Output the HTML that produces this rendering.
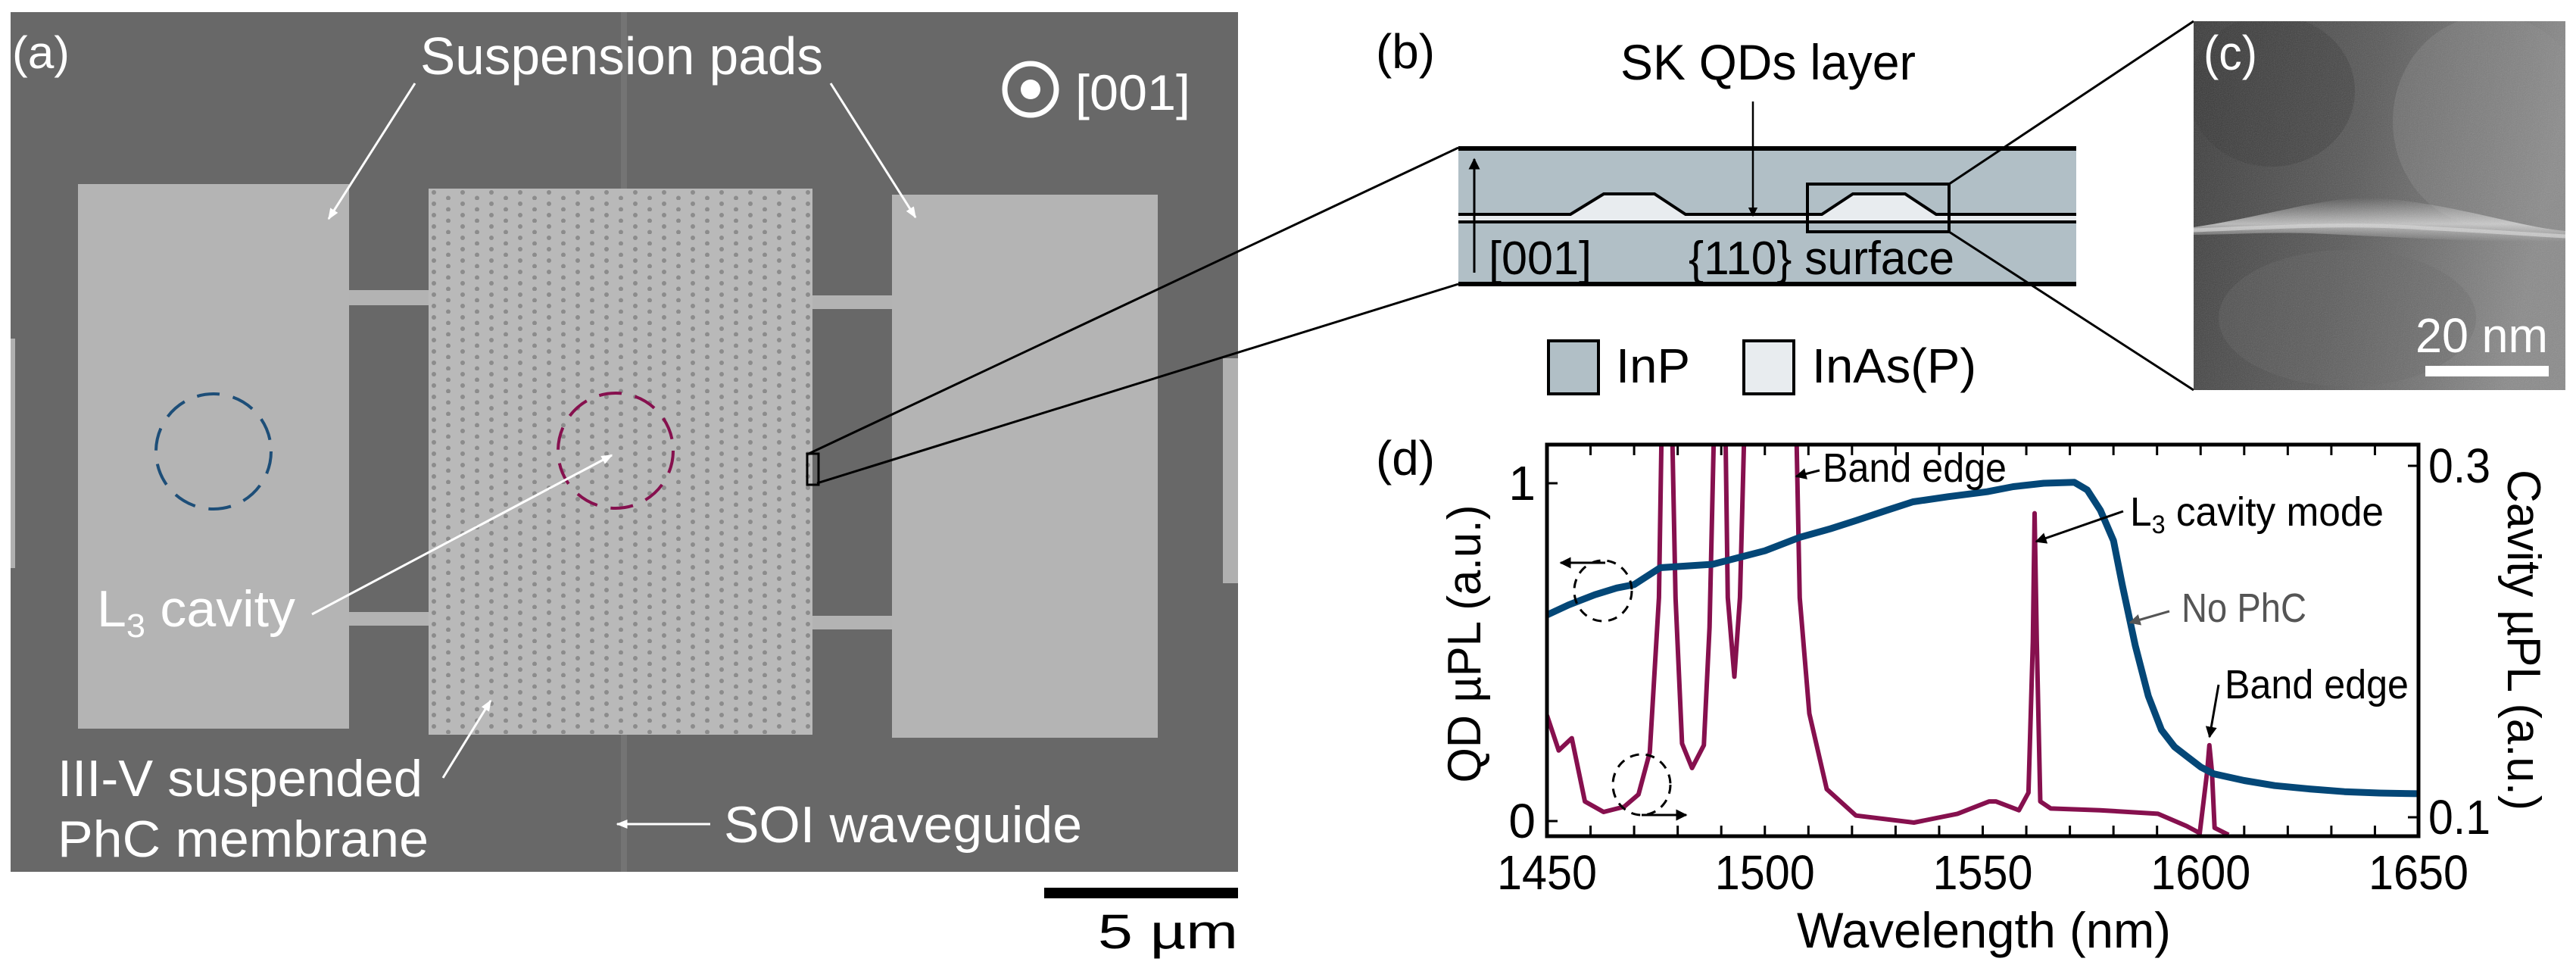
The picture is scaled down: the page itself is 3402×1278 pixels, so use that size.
<!DOCTYPE html>
<html><head><meta charset="utf-8"><style>
html,body{margin:0;padding:0;background:#fff;}
svg{display:block;}
text{font-family:"Liberation Sans",sans-serif;}
</style></head><body>
<svg id="fig" width="3402" height="1278" viewBox="0 0 3402 1278" xmlns="http://www.w3.org/2000/svg">
<defs>
<pattern id="holes" x="564" y="249" width="38" height="15" patternUnits="userSpaceOnUse">
<rect width="38" height="15" fill="#b9b9b9"/>
<circle cx="9" cy="5" r="3" fill="#8c8c8c"/>
<circle cx="28" cy="12.5" r="3" fill="#8c8c8c"/>
</pattern>
<linearGradient id="temBg" x1="0" y1="0" x2="1" y2="0.2">
<stop offset="0" stop-color="#383838"/><stop offset="0.5" stop-color="#585858"/><stop offset="1" stop-color="#8a8a8a"/>
</linearGradient>
<linearGradient id="band" x1="0" y1="0" x2="0" y2="1">
<stop offset="0" stop-color="#ddd" stop-opacity="0"/><stop offset="0.6" stop-color="#e2e2e2" stop-opacity="0.75"/><stop offset="1" stop-color="#ddd" stop-opacity="0"/>
</linearGradient>
<filter id="grain" x="0" y="0" width="100%" height="100%">
<feTurbulence type="fractalNoise" baseFrequency="0.9" numOctaves="2" seed="3" result="n"/>
<feColorMatrix type="saturate" values="0"/>
</filter>
<clipPath id="plotClip"><rect x="2043" y="587" width="1151" height="517"/></clipPath>
<clipPath id="temClip"><rect x="2897" y="28" width="491" height="487"/></clipPath>
<marker id="ah" viewBox="0 0 10 10" refX="9" refY="5" markerWidth="5" markerHeight="5" orient="auto-start-reverse"><path d="M0,0L10,5L0,10z" fill="#000"/></marker>
<marker id="ahw" viewBox="0 0 10 10" refX="9" refY="5" markerWidth="5" markerHeight="5" orient="auto"><path d="M0,1L10,5L0,9z" fill="#fff"/></marker>
<marker id="ahg" viewBox="0 0 10 10" refX="9" refY="5" markerWidth="5" markerHeight="5" orient="auto"><path d="M0,0L10,5L0,10z" fill="#555"/></marker>
</defs>

<g>
<rect x="14" y="16" width="1621" height="1135" fill="#686868"/>
<rect x="820" y="16" width="8" height="1135" fill="#747474"/>
<rect x="14" y="447" width="6" height="303" fill="#b0b0b0"/>
<rect x="1615" y="473" width="20" height="297" fill="#b0b0b0"/>
<rect x="455" y="383" width="115" height="20" fill="#b3b3b3"/>
<rect x="455" y="808" width="115" height="18" fill="#b3b3b3"/>
<rect x="1068" y="390" width="115" height="18" fill="#b3b3b3"/>
<rect x="1068" y="813" width="115" height="18" fill="#b3b3b3"/>
<rect x="103" y="243" width="358" height="719" fill="#b4b4b4"/>
<rect x="1178" y="257" width="351" height="717" fill="#b4b4b4"/>
<rect x="566" y="249" width="507" height="721" fill="url(#holes)"/>
<circle cx="282" cy="596" r="76" fill="none" stroke="#1d4e78" stroke-width="4" stroke-dasharray="30 18"/>
<circle cx="813" cy="595" r="76" fill="none" stroke="#86104e" stroke-width="4" stroke-dasharray="30 18"/>
<text x="16" y="90" font-size="60" fill="#fff" textLength="76" lengthAdjust="spacingAndGlyphs">(a)</text>
<text x="555" y="98" font-size="70" fill="#fff" textLength="532" lengthAdjust="spacingAndGlyphs">Suspension pads</text>
<line x1="548" y1="110" x2="434" y2="289" stroke="#fff" stroke-width="3" marker-end="url(#ahw)"/>
<line x1="1097" y1="110" x2="1209" y2="287" stroke="#fff" stroke-width="3" marker-end="url(#ahw)"/>
<circle cx="1361" cy="118" r="34" fill="none" stroke="#fff" stroke-width="7"/>
<circle cx="1361" cy="118" r="13" fill="#fff"/>
<text x="1420" y="145" font-size="66" fill="#fff" textLength="152" lengthAdjust="spacingAndGlyphs">[001]</text>
<line x1="412" y1="811" x2="808" y2="601" stroke="#fff" stroke-width="3" marker-end="url(#ahw)"/>
<text x="128" y="827" font-size="68" fill="#fff" textLength="262" lengthAdjust="spacingAndGlyphs">L<tspan font-size="44" dy="14">3</tspan><tspan dy="-14"> cavity</tspan></text>
<text x="76" y="1051" font-size="68" fill="#fff" textLength="482" lengthAdjust="spacingAndGlyphs">III-V suspended</text>
<text x="76" y="1131" font-size="68" fill="#fff" textLength="490" lengthAdjust="spacingAndGlyphs">PhC membrane</text>
<line x1="585" y1="1027" x2="648" y2="925" stroke="#fff" stroke-width="3" marker-end="url(#ahw)"/>
<text x="956" y="1112" font-size="68" fill="#fff" textLength="473" lengthAdjust="spacingAndGlyphs">SOI waveguide</text>
<line x1="938" y1="1088" x2="815" y2="1088" stroke="#fff" stroke-width="3" marker-end="url(#ahw)"/>
<rect x="1066" y="599" width="15" height="41" fill="none" stroke="#000" stroke-width="3"/>
</g>
<rect x="1379" y="1172" width="256" height="14" fill="#000"/>
<text x="1450" y="1252" font-size="64" fill="#000" textLength="185" lengthAdjust="spacingAndGlyphs">5 µm</text>
<line x1="1068" y1="599" x2="1926" y2="195" stroke="#000" stroke-width="3"/>
<line x1="1079" y1="638" x2="1926" y2="375" stroke="#000" stroke-width="3"/>

<g>
<text x="1817" y="90" font-size="64" fill="#000" textLength="78" lengthAdjust="spacingAndGlyphs">(b)</text>
<rect x="1926" y="195" width="816" height="180" fill="#b1bfc6"/>
<path d="M1926,283 L2074,283 L2118,256 L2185,256 L2226,283 L2406,283 L2447,256 L2516,256 L2557,283 L2742,283 L2742,293 L1926,293 Z" fill="#e8ecef"/>
<path d="M1926,283 L2074,283 L2118,256 L2185,256 L2226,283 L2406,283 L2447,256 L2516,256 L2557,283 L2742,283" fill="none" stroke="#000" stroke-width="4"/>
<line x1="1926" y1="293" x2="2742" y2="293" stroke="#000" stroke-width="4"/>
<line x1="1926" y1="196" x2="2742" y2="196" stroke="#000" stroke-width="6"/>
<line x1="1926" y1="375" x2="2742" y2="375" stroke="#000" stroke-width="6"/>
<line x1="1947" y1="360" x2="1947" y2="210" stroke="#000" stroke-width="3" marker-end="url(#ah)"/>
<text x="1966" y="362" font-size="62" fill="#000" textLength="136" lengthAdjust="spacingAndGlyphs">[001]</text>
<text x="2230" y="362" font-size="62" fill="#000" textLength="351" lengthAdjust="spacingAndGlyphs">{110} surface</text>
<text x="2140" y="105" font-size="66" fill="#000" textLength="390" lengthAdjust="spacingAndGlyphs">SK QDs layer</text>
<line x1="2315" y1="134" x2="2315" y2="285" stroke="#000" stroke-width="2.5" marker-end="url(#ah)"/>
<rect x="2387" y="243" width="187" height="63" fill="none" stroke="#000" stroke-width="4"/>
<line x1="2574" y1="243" x2="2897" y2="28" stroke="#000" stroke-width="3"/>
<line x1="2574" y1="306" x2="2897" y2="515" stroke="#000" stroke-width="3"/>
<rect x="2045" y="450" width="66" height="70" fill="#b1bfc6" stroke="#000" stroke-width="4"/>
<text x="2134" y="505" font-size="64" fill="#000" textLength="98" lengthAdjust="spacingAndGlyphs">InP</text>
<rect x="2303" y="450" width="66" height="70" fill="#e8ecef" stroke="#000" stroke-width="4"/>
<text x="2393" y="505" font-size="64" fill="#000" textLength="217" lengthAdjust="spacingAndGlyphs">InAs(P)</text>
</g>

<g clip-path="url(#temClip)">
<rect x="2897" y="28" width="491" height="487" fill="url(#temBg)"/>
<ellipse cx="3290" cy="160" rx="130" ry="140" fill="#8c8c8c" opacity="0.35"/>
<ellipse cx="3000" cy="120" rx="110" ry="100" fill="#303030" opacity="0.35"/>
<ellipse cx="3100" cy="420" rx="170" ry="90" fill="#646464" opacity="0.35"/>
<path d="M2897,300 C3000,285 3080,255 3150,262 C3250,272 3330,300 3388,305 L3388,318 C3300,322 3150,312 3050,308 C2990,306 2940,310 2897,310 Z" fill="url(#band)"/>
<path d="M2897,304 C3000,300 3100,294 3200,301 C3300,306 3350,310 3388,312" fill="none" stroke="#d8d8d8" stroke-width="5" opacity="0.7"/>
<rect x="2897" y="28" width="491" height="487" filter="url(#grain)" opacity="0.25"/>
</g>
<text x="2910" y="92" font-size="64" fill="#fff" textLength="71" lengthAdjust="spacingAndGlyphs">(c)</text>
<text x="3190" y="465" font-size="64" fill="#fff" textLength="175" lengthAdjust="spacingAndGlyphs">20 nm</text>
<rect x="3203" y="483" width="163" height="14" fill="#fff"/>

<text x="1817" y="627" font-size="64" fill="#000" textLength="78" lengthAdjust="spacingAndGlyphs">(d)</text>
<g id="chart"></g>
</svg>
<script>
const xTicks = [1450, 1500, 1550, 1600, 1650];
const leftTicks = [0, 1];
const rightTicks = [0.1, 0.3];
const noPhcWl = [1450,1455,1461,1466,1470,1476,1482,1488,1494,1500,1508,1515,1521,1528,1534,1542,1551,1557,1564,1571,1574,1577,1580,1582,1585,1588,1591,1594,1597,1600,1603,1610,1617,1625,1633,1641,1650];
const noPhcVal = [0.61,0.64,0.67,0.69,0.70,0.75,0.755,0.76,0.78,0.80,0.84,0.865,0.89,0.92,0.945,0.96,0.975,0.99,1.0,1.003,0.98,0.92,0.83,0.70,0.52,0.37,0.27,0.22,0.19,0.16,0.14,0.12,0.105,0.095,0.087,0.083,0.081];
const cavWl = [1450,1452.7,1455.7,1458.7,1463,1467.7,1471,1473.6,1475.7,1476.5,1478.5,1479.5,1481,1483.3,1486,1487.3,1488.6,1490.8,1491.5,1493,1494.3,1495.6,1507,1508,1510.2,1514.2,1520.9,1534.2,1544.2,1551.5,1553,1558.3,1560.5,1561.5,1561.9,1562.4,1563.2,1565.6,1576.9,1590.2,1596.8,1599.8,1601.5,1602,1602.6,1603.2,1606.4];
const cavVal = [0.158,0.138,0.145,0.109,0.103,0.106,0.113,0.137,0.225,0.35,0.35,0.225,0.142,0.128,0.141,0.208,0.35,0.35,0.225,0.180,0.225,0.35,0.35,0.225,0.159,0.116,0.101,0.097,0.102,0.109,0.109,0.104,0.114,0.2,0.273,0.2,0.109,0.105,0.104,0.102,0.095,0.091,0.126,0.141,0.126,0.094,0.09];

const NS = "http://www.w3.org/2000/svg";
const PL = 2043, PR = 3194, PT = 587, PB = 1104;
function xs(w){ return PL + (w - 1450) / 200 * (PR - PL); }
function yl(v){ return 1084 - v * 446; }
function yr(v){ return 1079 - (v - 0.1) / 0.2 * 464; }
const chart = document.getElementById('chart');
function mk(tag, attrs, parent){
  const e = document.createElementNS(NS, tag);
  for (const k in attrs) e.setAttribute(k, attrs[k]);
  (parent || chart).appendChild(e);
  return e;
}
for (let w = 1460; w < 1650; w += 10) {
  const t1 = mk('line', {x1: xs(w), x2: xs(w), y1: PB, y2: PB - 14, stroke: '#000', 'stroke-width': 3});
  
  
  const t2 = mk('line', {x1: xs(w), x2: xs(w), y1: PT, y2: PT + 14, stroke: '#000', 'stroke-width': 3});
  
  
}
xTicks.forEach(w => {
  const t = mk('text', {x: xs(w), y: 1174, 'font-size': 64, 'text-anchor': 'middle', textLength: 132, lengthAdjust: 'spacingAndGlyphs'});
  t.textContent = w;
  
  
});
leftTicks.forEach(v => {
  const l = mk('line', {x1: PL, x2: PL + 14, y1: yl(v), y2: yl(v), stroke: '#000', 'stroke-width': 3});
  
  
  const t = mk('text', {x: 2028, y: yl(v) + 22, 'font-size': 64, 'text-anchor': 'end'});
  t.textContent = String(v);
  
  
});
rightTicks.forEach(v => {
  const l = mk('line', {x1: PR, x2: PR - 14, y1: yr(v), y2: yr(v), stroke: '#000', 'stroke-width': 3});
  
  
  const t = mk('text', {x: 3207, y: yr(v) + 22, 'font-size': 64, textLength: 82, lengthAdjust: 'spacingAndGlyphs'});
  t.textContent = v.toFixed(1);
  
  
});
const g = mk('g', {'clip-path': 'url(#plotClip)'});


const cavPath = mk('path', {d: cavWl.map((w,i)=>(i?'L':'M')+xs(w).toFixed(1)+','+yr(cavVal[i]).toFixed(1)).join(''), fill:'none', stroke:'#86104e', 'stroke-width':6, 'stroke-linejoin':'round'}, g);


const qdPath = mk('path', {d: noPhcWl.map((w,i)=>(i?'L':'M')+xs(w).toFixed(1)+','+yl(noPhcVal[i]).toFixed(1)).join(''), fill:'none', stroke:'#044777', 'stroke-width':9, 'stroke-linejoin':'round'}, g);


const frame = mk('rect', {x: PL, y: PT, width: PR-PL, height: PB-PT, fill:'none', stroke:'#000', 'stroke-width':5});


const xt = mk('text', {x: 2620, y: 1251, 'font-size': 66, 'text-anchor': 'middle', textLength: 494, lengthAdjust: 'spacingAndGlyphs'});
xt.textContent = 'Wavelength (nm)';


const ylt = mk('text', {x: 0, y: 0, 'font-size': 62, 'text-anchor': 'middle', transform: 'translate(1955,850) rotate(-90)', textLength: 367, lengthAdjust: 'spacingAndGlyphs'});
ylt.textContent = 'QD µPL (a.u.)';


const yrt = mk('text', {x: 0, y: 0, 'font-size': 62, 'text-anchor': 'middle', transform: 'translate(3312,845) rotate(90)', textLength: 450, lengthAdjust: 'spacingAndGlyphs'});
yrt.textContent = 'Cavity µPL (a.u.)';


function ann(txt, x, y, w, name, color){
  const t = mk('text', {x: x, y: y, 'font-size': 54, fill: color || '#000', textLength: w, lengthAdjust: 'spacingAndGlyphs'});
  t.textContent = txt;
  
  
  return t;
}
function arr(x1,y1,x2,y2,name,mark,color){
  const l = mk('line', {x1:x1,y1:y1,x2:x2,y2:y2, stroke: color || '#000', 'stroke-width': 3, 'marker-end': 'url(#' + (mark || 'ah') + ')'});
  
  
}
ann('Band edge', 2407, 636, 243, 'band-edge-label-1');
arr(2403, 621, 2372, 629, 'band-edge-arrow-1');
const l3 = mk('text', {x: 2813, y: 694, 'font-size': 54, textLength: 335, lengthAdjust: 'spacingAndGlyphs'});
l3.innerHTML = 'L<tspan font-size="34" dy="10">3</tspan><tspan dy="-10"> cavity mode</tspan>';


arr(2804, 675, 2689, 715, 'cavity-mode-arrow');
ann('No PhC', 2881, 821, 165, 'no-phc-label', '#555');
arr(2865, 807, 2813, 822, 'no-phc-arrow', 'ahg', '#555');
ann('Band edge', 2938, 922, 243, 'band-edge-label-2');
arr(2930, 904, 2918, 973, 'band-edge-arrow-2');
const c1 = mk('ellipse', {cx: 2117, cy: 780, rx: 38, ry: 40, fill: 'none', stroke: '#000', 'stroke-width': 3, 'stroke-dasharray': '12 9'});


arr(2120, 743, 2061, 743, 'left-axis-arrow');
const c2 = mk('ellipse', {cx: 2168, cy: 1036, rx: 38, ry: 40, fill: 'none', stroke: '#000', 'stroke-width': 3, 'stroke-dasharray': '12 9'});


arr(2168, 1076, 2227, 1076, 'right-axis-arrow');
</script>
</body></html>
